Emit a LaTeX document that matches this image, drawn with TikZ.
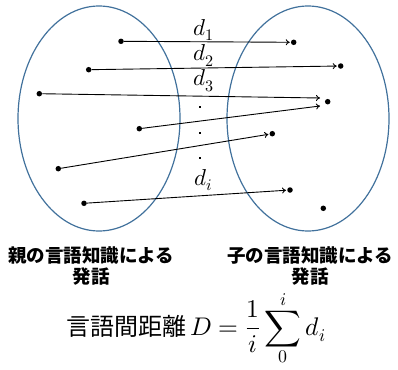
\documentclass[tikz,border=0pt]{standalone}
\usepackage{fontspec}
\usepackage{unicode-math}
\setmathfont{Latin Modern Math}
\newfontfamily\jp{Noto Sans CJK JP}
\usetikzlibrary{arrows.meta,shapes.geometric}
\definecolor{ellblue}{HTML}{41719C}
\tikzset{
  dot/.style={circle,fill=black,inner sep=0pt,minimum size=5.5pt},
  arr/.style={line width=0.9pt,-{To[length=4pt,width=6pt]},shorten >=1pt},
  setell/.style={draw=ellblue,line width=1.2pt,ellipse,inner sep=0pt,minimum width=162pt,minimum height=225pt},
  dlabel/.style={font=\fontsize{23}{28}\selectfont,inner sep=0pt},
  vdot/.style={fill=black,inner sep=0pt,minimum size=2.8pt,rectangle},
  caption/.style={font=\jp\bfseries\fontsize{18.5}{21}\selectfont,align=center,inner sep=0pt},
  formula/.style={font=\jp\fontsize{24}{28}\selectfont,inner sep=0pt}
}
\begin{document}
\begin{tikzpicture}[x=1pt,y=-1pt]
\useasboundingbox (0,0) rectangle (398,369);
% sets
\node[setell] (setL) at (99,118.5) {};
\node[setell] (setR) at (308,118.5) {};
% left dots
\node[dot] (l1) at (121,41.3) {};
\node[dot] (l2) at (88.7,69.7) {};
\node[dot] (l3) at (39.3,93.7) {};
\node[dot] (l4) at (139.3,128.7) {};
\node[dot] (l5) at (58.3,168.7) {};
\node[dot] (l6) at (84,203.3) {};
% right dots
\node[dot] (r1) at (293.7,42.3) {};
\node[dot] (r2) at (340.7,66) {};
\node[dot] (r3) at (327.7,101.7) {};
\node[dot] (r4) at (272.3,133.7) {};
\node[dot] (r5) at (290,190) {};
\node[dot] (r6) at (323.3,208.3) {};
\coordinate (r3a) at (320,98);
\coordinate (r3b) at (320,106);
% arrows
\draw[arr] (l1) -- (r1);
\draw[arr] (l2) -- (r2);
\draw[arr,shorten >=0pt] (l3) -- (r3a);
\draw[arr,shorten >=0pt] (l4) -- (r3b);
\draw[arr] (l5) -- (r4);
\draw[arr] (l6) -- (r5);
% labels
\node[dlabel] (d1) at (204,30) {$d_1$};
\node[dlabel] (d2) at (204,55.5) {$d_2$};
\node[dlabel] (d3) at (204,81) {$d_3$};
\node[vdot] (v1) at (200,107) {};
\node[vdot] (v2) at (200,133) {};
\node[vdot] (v3) at (200,158) {};
\node[dlabel] (di) at (204,180) {$d_i$};
% captions
\node[caption] (capL) at (91,266) {親の言語知識による\\発話};
\node[caption] (capR) at (310,266) {子の言語知識による\\発話};
% formula
\node[formula,anchor=base west] (form) at (66,335) {言語間距離\,{\fontsize{25.5}{30}\selectfont$\displaystyle D=\frac{1}{i}\sum_{0}^{i} d_i$}};
\end{tikzpicture}
\end{document}
